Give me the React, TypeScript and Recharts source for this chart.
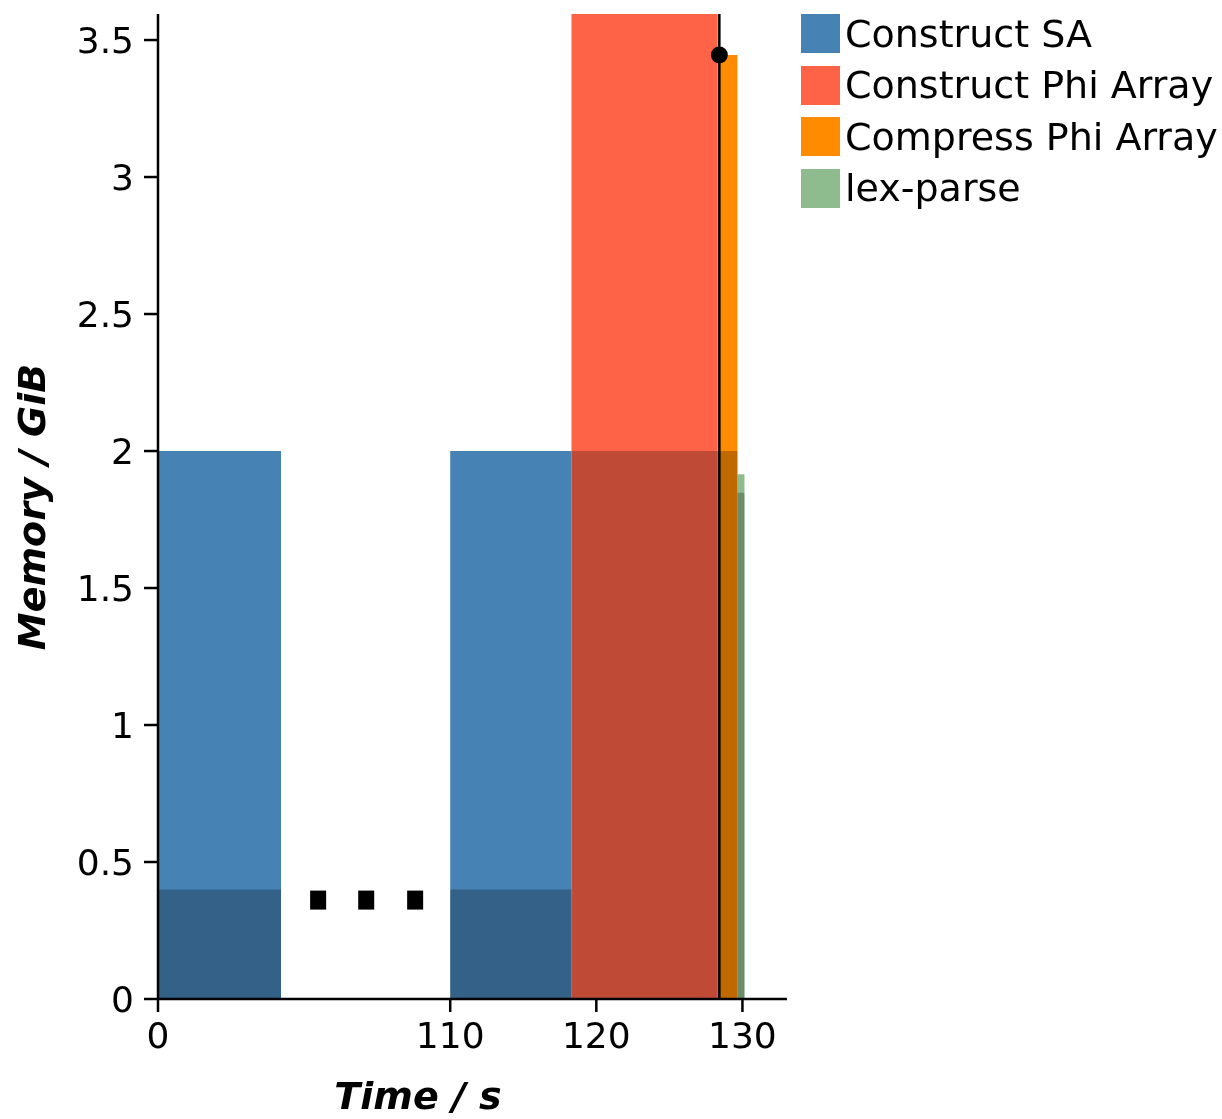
import React from 'react';
import {
  ComposedChart,
  XAxis,
  YAxis,
  Scatter,
  ReferenceArea,
  ReferenceLine,
  ReferenceDot,
} from 'recharts';

// ── Data ─────────────────────────────────────────────────────────────────────

const SERIES = ['Construct SA', 'Construct Phi Array', 'Compress Phi Array', 'lex-parse'];
const COLORS = ['#4682b4', '#ff6347', '#ff8c00', '#8fbc8f'];

// phase blocks: [series index, start s, end s, peak GiB]
const PHASES: [number, number, number, number][] = [
  [0, 0, 8.42, 2.0],
  [0, 110, 118.3, 2.0],
  [1, 118.3, 128.31, 3.72],
  [2, 128.31, 129.66, 3.445],
  [3, 129.66, 130.14, 1.915],
];

// resident memory carried through each phase (darker band)
const RESIDENT: [number, number, number][] = [
  [0, 8.42, 0.4],
  [110, 118.3, 0.4],
  [118.3, 129.66, 2.0],
  [129.66, 130.14, 1.848],
];

const MARK_TIME = 128.42; // vertical marker
const MARK_MEM = 3.445;

const X_TICKS = [0, 110, 120, 130];
const Y_TICKS = [0, 0.5, 1, 1.5, 2, 2.5, 3, 3.5];

// axis break: everything after the gap is shifted left by this many seconds
const BREAK_AT = 100;
const BREAK_SHIFT = 90;
const toX = (t: number) => (t >= BREAK_AT ? t - BREAK_SHIFT : t);

// "..." markers drawn inside the gap (display units)
const BREAK_DOTS = [
  { x: 10.96, y: 0.361 },
  { x: 14.25, y: 0.361 },
  { x: 17.6, y: 0.361 },
];

// ── Styling ─────────────────────────────────────────────────────────────────

const FONT = '"DejaVu Sans", sans-serif';
const AXIS_STROKE = { stroke: '#000', strokeWidth: 2.5 };
const W = 1214;
const H = 1111;

function SquareDot(props: { cx?: number; cy?: number }) {
  const { cx = 0, cy = 0 } = props;
  return <rect x={cx - 8} y={cy - 9.5} width={16} height={19} fill="#000" />;
}

export default function App() {
  // fixed so the full-height chart never triggers a page scrollbar
  return (
    <div style={{ position: 'fixed', left: 8, top: 8, width: W, height: H, fontFamily: FONT }}>
      <ComposedChart
        width={W}
        height={H}
        data={BREAK_DOTS}
        margin={{ top: 6, right: 435, left: 0, bottom: 0 }}
      >
        <XAxis
          type="number"
          dataKey="x"
          domain={[0, 43.05]}
          ticks={X_TICKS.map(toX)}
          tickFormatter={(v: number) => String(v >= BREAK_AT - BREAK_SHIFT ? v + BREAK_SHIFT : v)}
          height={120}
          tickSize={13}
          tickMargin={10}
          axisLine={AXIS_STROKE}
          tickLine={AXIS_STROKE}
          tick={{ fill: '#000', fontSize: 36, fontFamily: FONT }}
          allowDataOverflow
          label={{
            content: () => (
              <text
                x={410}
                y={1101}
                textAnchor="middle"
                fontFamily={FONT}
                fontSize={38}
                fontWeight="bold"
                fontStyle="italic"
                fill="#000"
              >
                Time / s
              </text>
            ),
          }}
        />
        <YAxis
          type="number"
          dataKey="y"
          domain={[0, 3.595]}
          ticks={Y_TICKS}
          tickFormatter={(v: number) => String(v)}
          width={150}
          tickSize={14}
          tickMargin={10}
          axisLine={AXIS_STROKE}
          tickLine={AXIS_STROKE}
          tick={{ fill: '#000', fontSize: 36, fontFamily: FONT }}
          allowDataOverflow
          label={{
            content: () => (
              <text
                x={24}
                y={499}
                transform="rotate(-90 24 499)"
                textAnchor="middle"
                dominantBaseline="central"
                fontFamily={FONT}
                fontSize={38}
                fontWeight="bold"
                fontStyle="italic"
                fill="#000"
              >
                Memory / GiB
              </text>
            ),
          }}
        />

        {PHASES.map(([s, t0, t1, mem], i) => (
          <ReferenceArea
            key={`p${i}`}
            x1={toX(t0)}
            x2={toX(t1)}
            y1={0}
            y2={mem}
            fill={COLORS[s]}
            fillOpacity={1}
            stroke="none"
            ifOverflow="hidden"
          />
        ))}

        {RESIDENT.map(([t0, t1, mem], i) => (
          <ReferenceArea
            key={`r${i}`}
            x1={toX(t0)}
            x2={toX(t1)}
            y1={0}
            y2={mem}
            fill="#000"
            fillOpacity={0.25}
            stroke="none"
            ifOverflow="hidden"
          />
        ))}

        <ReferenceLine x={toX(MARK_TIME)} stroke="#000" strokeWidth={2.5} />
        <ReferenceDot x={toX(MARK_TIME)} y={MARK_MEM} r={8.5} fill="#000" stroke="none" />

        <Scatter dataKey="y" shape={SquareDot} isAnimationActive={false} />
      </ComposedChart>

      <div style={{ position: 'absolute', left: 793, top: 6 }}>
        {SERIES.map((name, i) => (
          <div
            key={name}
            style={{ display: 'flex', alignItems: 'center', height: 39, marginBottom: 12.5 }}
          >
            <div style={{ width: 39, height: 39, background: COLORS[i], marginRight: 5 }} />
            <span style={{ fontSize: 38, color: '#000', whiteSpace: 'nowrap', lineHeight: 1 }}>
              {name}
            </span>
          </div>
        ))}
      </div>
    </div>
  );
}
